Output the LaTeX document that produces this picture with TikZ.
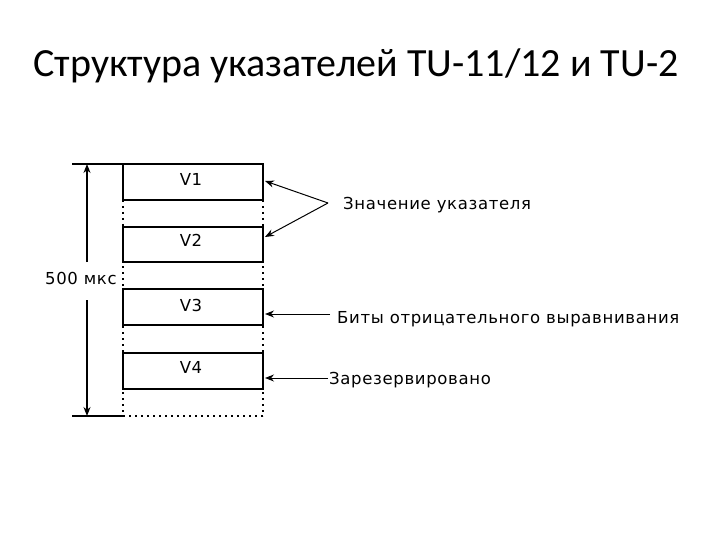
\documentclass[tikz,border=0pt]{standalone}
\usepackage{fontspec}
\setmainfont{DejaVu Sans}[LetterSpace=4]
\newfontfamily\titlefont{Carlito}
\usetikzlibrary{arrows.meta}
\begin{document}
\begin{tikzpicture}[x=1pt,y=-1pt,
  box/.style={draw,line width=1.3pt},
  dotline/.style={line width=1.3pt,dash pattern=on 2pt off 4pt},
  arr/.style={line width=1pt,-{Stealth[length=9pt,width=7pt]}},
  lbl/.style={font=\fontsize{16.5}{20}\selectfont,inner sep=0pt,anchor=base}]
\useasboundingbox (0,0) rectangle (720,540);
\node[font=\titlefont\fontsize{40}{46}\selectfont,anchor=base,inner sep=0pt] (title) at (356,77) {Структура указателей TU-11/12 и TU-2};
% boxes
\draw[box] (123,164) rectangle (263,200);
\draw[box] (123,227) rectangle (263,262);
\draw[box] (123,289) rectangle (263,325);
\draw[box] (123,353) rectangle (263,389);
\node[lbl] (v1) at (191,186) {V1};
\node[lbl] (v2) at (191,247) {V2};
\node[lbl] (v3) at (191,311) {V3};
\node[lbl] (v4) at (191,373) {V4};
% dotted frame
\draw[dotline] (123,164) -- (123,416);
\draw[dotline] (263,164) -- (263,416);
\draw[dotline] (123,416) -- (263,416);
\draw[line width=1.3pt] (72,164) -- (123,164);
\draw[line width=1.3pt] (72,416) -- (123,416);
% dimension
\coordinate (top) at (87,164);
\coordinate (bot) at (87,416);
\coordinate (ua) at (87,262);
\coordinate (da) at (87,300);
\draw[arr,line width=1.3pt] (ua) -- (top);
\draw[arr,line width=1.3pt] (da) -- (bot);
\node[lbl,anchor=base west] (dim) at (45,284) {500 мкс};
% annotations
\coordinate (apex) at (328,203);
\coordinate (p1) at (265,181);
\coordinate (p2) at (265,237);
\coordinate (p3) at (265,314);
\coordinate (p4) at (265,378);
\draw[arr] (apex) -- (p1);
\draw[arr] (apex) -- (p2);
\node[lbl,anchor=base west] (l1) at (343,210) {Значение указателя};
\node[lbl,anchor=base west] (l3) at (337,323) {Биты отрицательного выравнивания};
\node[lbl,anchor=base west] (l4) at (329,384) {Зарезервировано};
\coordinate (s3) at (330,314);
\coordinate (s4) at (328,378);
\draw[arr] (s3) -- (p3);
\draw[arr] (s4) -- (p4);
\end{tikzpicture}
\end{document}
